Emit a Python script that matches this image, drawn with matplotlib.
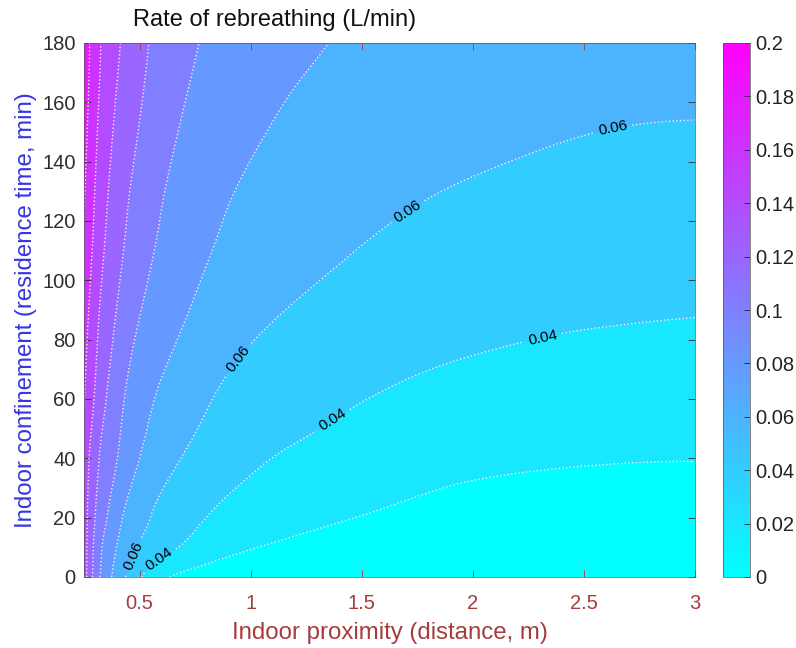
import numpy as np
import matplotlib
matplotlib.use("Agg")
import matplotlib.pyplot as plt
from matplotlib import cm, colors
from matplotlib.tri import Triangulation, UniformTriRefiner

plt.rcParams['font.family'] = ['Liberation Sans', 'DejaVu Sans']

# distance to the source (m) and time spent indoors (min)
distance = [0.25, 0.3, 0.35, 0.4, 0.5, 0.6, 0.75, 1.0, 1.25, 1.5, 2.0, 2.5, 3.0]
minutes = [0, 10, 20, 40, 60, 90, 120, 150, 180]

# rebreathing rate (L/min), one row per time value
rate = [
    [0.150, 0.112, 0.088, 0.072, 0.042, 0.024, 0.012, 0.005, 0.002, 0.001, 0.000, 0.000, 0.000],
    [0.150, 0.115, 0.093, 0.079, 0.058, 0.046, 0.034, 0.021, 0.015, 0.011, 0.007, 0.0055, 0.005],
    [0.150, 0.120, 0.101, 0.086, 0.066, 0.055, 0.043, 0.031, 0.024, 0.0195, 0.0135, 0.011, 0.010],
    [0.153, 0.127, 0.111, 0.100, 0.080, 0.067, 0.056, 0.043, 0.0365, 0.0308, 0.0235, 0.0212, 0.0205],
    [0.161, 0.138, 0.120, 0.107, 0.088, 0.077, 0.065, 0.052, 0.0455, 0.0405, 0.0335, 0.030, 0.0285],
    [0.171, 0.147, 0.131, 0.119, 0.101, 0.090, 0.078, 0.0645, 0.0578, 0.0525, 0.0455, 0.0425, 0.041],
    [0.180, 0.157, 0.140, 0.128, 0.111, 0.099, 0.0875, 0.0742, 0.0675, 0.0625, 0.0555, 0.052, 0.0505],
    [0.187, 0.164, 0.147, 0.136, 0.119, 0.1065, 0.095, 0.0825, 0.0757, 0.0705, 0.064, 0.0603, 0.059],
    [0.192, 0.169, 0.153, 0.1425, 0.1255, 0.1135, 0.101, 0.089, 0.082, 0.077, 0.071, 0.067, 0.065],
]

levels = np.round(np.arange(0, 0.201, 0.02), 2)
labelled_levels = [0.04, 0.06]
x_ticks = [0.5, 1, 1.5, 2, 2.5, 3]
y_ticks = list(range(0, 181, 20))
cbar_ticks = levels

x0, xspan = 0.25, 2.75
yspan = 180.0

D, T = np.meshgrid(distance, minutes)
Z = np.array(rate)

# triangulate the grid in unit-square coordinates, then let the
# refiner smooth the field before contouring
nt, nd = Z.shape
tris = []
for i in range(nt - 1):
    for j in range(nd - 1):
        a = i * nd + j
        tris.append([a, a + 1, a + nd + 1])
        tris.append([a, a + nd + 1, a + nd])
tri = Triangulation(((D - x0) / xspan).ravel(), (T / yspan).ravel(), tris)
tri_f, z_f = UniformTriRefiner(tri).refine_field(Z.ravel(), subdiv=4)
tri_plot = Triangulation(tri_f.x * xspan + x0, tri_f.y * yspan, tri_f.triangles)

cmap = plt.get_cmap('cool')
norm = colors.Normalize(vmin=0, vmax=0.2)
# each band takes the colour of its lower level
band_colors = [cmap(norm(v)) for v in levels[:-1]]
fill_levels = levels.astype(float).copy()
fill_levels[0] = min(0.0, z_f.min()) - 1e-6
fill_levels[-1] = max(0.2, z_f.max()) + 1e-6

x_col = '#a63c3c'
y_col = '#3535e6'
line_style = dict(colors='#f2f2f2', linestyles=':', linewidths=1.0)

fig = plt.figure(figsize=(7.96, 6.48), dpi=100)
ax = fig.add_axes([84 / 796, 1 - 577 / 648, 611 / 796, 534 / 648])

ax.tricontourf(tri_plot, z_f, levels=fill_levels, colors=band_colors)
plain_levels = [v for v in levels[1:-1] if v not in labelled_levels]
ax.tricontour(tri_plot, z_f, levels=plain_levels, **line_style)
lab_lines = ax.tricontour(tri_plot, z_f, levels=labelled_levels, **line_style)

label_spots = [(0.466, 7.4), (0.957, 73), (1.71, 123), (2.63, 151),
               (0.597, 5), (1.37, 53), (2.31, 82)]
ax.clabel(lab_lines, manual=label_spots, inline=True,
          fmt='%g', fontsize=11, colors='k')

ax.set_xlim(0.25, 3)
ax.set_ylim(0, 180)
ax.set_xticks(x_ticks)
ax.set_xticklabels(['%g' % v for v in x_ticks])
ax.set_yticks(y_ticks)
ax.tick_params(direction='in', top=True, right=True, length=5, width=0.6,
               labelsize=14.5)
ax.tick_params(axis='x', colors=x_col, pad=12)
ax.tick_params(axis='y', colors='#2e2e2e', pad=6)
for side in ['top', 'bottom']:
    ax.spines[side].set_color(x_col)
    ax.spines[side].set_linewidth(0.5)
for side in ['left', 'right']:
    ax.spines[side].set_color('#555555')
    ax.spines[side].set_linewidth(0.5)

ax.set_xlabel('Indoor proximity (distance, m)', color=x_col, fontsize=17.3, labelpad=7)
ax.set_ylabel('Indoor confinement (residence time, min)', color=y_col, fontsize=17.3,
              labelpad=4)
fig.text(133 / 796, 1 - 20 / 648, 'Rate of rebreathing (L/min)', fontsize=17,
         ha='left', va='center', color='#111111')

cax = fig.add_axes([723 / 796, 1 - 577 / 648, 27 / 796, 534 / 648])
cb = fig.colorbar(cm.ScalarMappable(norm=norm, cmap=cmap), cax=cax, ticks=cbar_ticks)
cb.ax.set_yticklabels(['%g' % v for v in cbar_ticks])
cb.ax.tick_params(direction='in', length=4, width=0.6, labelsize=14.5, colors='#222222')
cb.outline.set_edgecolor('#555555')
cb.outline.set_linewidth(0.5)

fig.savefig('out.png', dpi=100)
